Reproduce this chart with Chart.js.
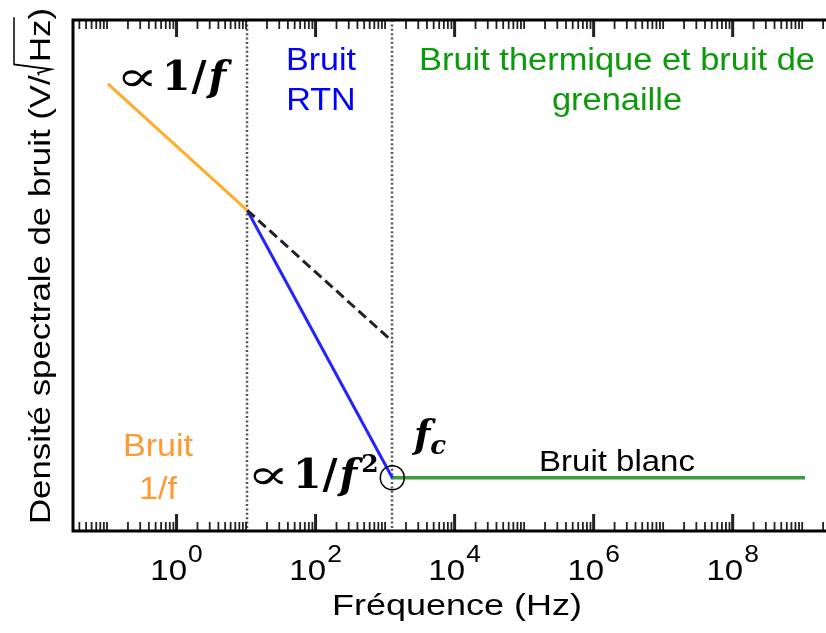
<!DOCTYPE html>
<html lang="fr">
<head>
  <meta charset="UTF-8">
  <title>Densité spectrale de bruit</title>
  <script src="https://cdn.jsdelivr.net/npm/chart.js"></script>
  <style>
    body, html {
      margin: 0;
      padding: 0;
      background-color: #ffffff;
    }
    .chart-container {
      width: 826px;
      height: 633px;
    }
  </style>
</head>
<body>
  <div class="chart-container"><canvas id="myChart" width="826" height="633"></canvas></div>

  <script>
    // axis ranges (log-log)
    const freqMin = 0.0324, freqMax = 2.2e9;
    const densMin = 1e-11, densMax = 1e-3;

    // segments of the noise spectrum
    const bruit1fF = [0.103, 10.4];
    const bruit1fD = [1e-4, 1.05e-6];
    const extrapF = [10.4, 1270];
    const extrapD = [1.05e-6, 9.3e-9];
    const rtnF = [10.4, 1270];
    const rtnD = [1.05e-6, 6.8e-11];
    const blancF = [1270, 1.1e9];
    const blancD = [6.8e-11, 6.8e-11];

    // region boundaries and corner frequency
    const boundaries = [10.4, 1270];
    const fc = 1270;

    // labelled ticks on the x axis
    const majorTicks = [1, 1e2, 1e4, 1e6, 1e8];
    const tickExps = ['0', '2', '4', '6', '8'];

    const SANS = "'Liberation Sans', Arial, sans-serif";
    const SERIF = "'DejaVu Serif', 'Liberation Serif', serif";

    function pts(xs, ys) {
      return xs.map((x, i) => ({ x: x, y: ys[i] }));
    }

    function txt(ctx, s, x, y, font, color, align, sx) {
      ctx.save();
      ctx.translate(x, y);
      ctx.scale(sx || 1, 1);
      ctx.font = font;
      ctx.fillStyle = color;
      ctx.textAlign = align || 'center';
      ctx.textBaseline = 'alphabetic';
      ctx.fillText(s, 0, 0);
      ctx.restore();
    }

    // draws "∝ 1/f" (+ optional exponent) starting at x
    function propTo(ctx, x, y, exp) {
      ctx.save();
      ctx.fillStyle = '#000';
      ctx.textBaseline = 'alphabetic';
      ctx.textAlign = 'left';
      // the proportional sign, fitted to a 30 x 17 box
      ctx.font = '40px ' + SERIF;
      const m = ctx.measureText('\u221D');
      const bw = m.actualBoundingBoxLeft + m.actualBoundingBoxRight;
      const bh = m.actualBoundingBoxAscent + m.actualBoundingBoxDescent;
      ctx.save();
      ctx.translate(x, y - 3);
      ctx.scale(30 / bw, 17 / bh);
      ctx.fillText('\u221D', m.actualBoundingBoxLeft, -m.actualBoundingBoxDescent);
      ctx.restore();
      x += 40;
      ctx.font = 'bold 41px ' + SERIF;
      ctx.fillText('1', x, y);
      x += ctx.measureText('1').width + 1;
      ctx.fillText('/', x, y);
      x += ctx.measureText('/').width + 2;
      ctx.font = 'bold italic 41px ' + SERIF;
      ctx.fillText('f', x, y);
      x += ctx.measureText('f').width + 4;
      if (exp) {
        ctx.font = 'bold 25px ' + SERIF;
        ctx.fillText(exp, x, y - 16);
      }
      ctx.restore();
    }

    const decorations = {
      id: 'decorations',
      beforeDatasetsDraw(chart) {
        const ctx = chart.ctx, a = chart.chartArea, xs = chart.scales.x;
        ctx.save();
        ctx.strokeStyle = '#555';
        ctx.lineWidth = 2.5;
        ctx.setLineDash([2, 2.4]);
        boundaries.forEach(f => {
          const px = Math.round(xs.getPixelForValue(f));
          ctx.beginPath();
          ctx.moveTo(px, a.top);
          ctx.lineTo(px, a.bottom);
          ctx.stroke();
        });
        ctx.restore();
      },
      afterDraw(chart) {
        const ctx = chart.ctx, a = chart.chartArea;
        const xs = chart.scales.x, ys = chart.scales.y;
        ctx.save();

        // minor and major ticks, inward, bottom and top
        ctx.strokeStyle = '#222';
        for (let k = -2; k <= 9; k++) {
          for (let m = 1; m <= 9; m++) {
            const f = m * Math.pow(10, k);
            if (f < freqMin || f > freqMax) continue;
            const major = m === 1 && k % 2 === 0;
            const len = major ? 17 : 9;
            const px = xs.getPixelForValue(f);
            ctx.lineWidth = major ? 3 : 1.8;
            ctx.beginPath();
            ctx.moveTo(px, a.bottom);
            ctx.lineTo(px, a.bottom - len);
            ctx.moveTo(px, a.top);
            ctx.lineTo(px, a.top + len);
            ctx.stroke();
          }
        }

        // frame (right side falls outside the picture)
        ctx.strokeStyle = '#000';
        ctx.lineWidth = 3;
        ctx.beginPath();
        ctx.moveTo(a.right + 2, a.top);
        ctx.lineTo(a.left, a.top);
        ctx.lineTo(a.left, a.bottom);
        ctx.lineTo(a.right + 2, a.bottom);
        ctx.stroke();

        // x tick labels 10^n
        majorTicks.forEach((f, i) => {
          const px = xs.getPixelForValue(f);
          ctx.save();
          ctx.translate(px, 580);
          ctx.scale(1.1, 1);
          ctx.fillStyle = '#000';
          ctx.textAlign = 'left';
          ctx.font = '30px ' + SANS;
          const w10 = ctx.measureText('10').width;
          ctx.font = '24px ' + SANS;
          const we = ctx.measureText(tickExps[i]).width;
          const x0 = -(w10 + 1 + we) / 2;
          ctx.font = '30px ' + SANS;
          ctx.fillText('10', x0, 0);
          ctx.font = '24px ' + SANS;
          ctx.fillText(tickExps[i], x0 + w10 + 1, -18);
          ctx.restore();
        });

        // axis titles
        txt(ctx, 'Fréquence (Hz)', 457, 615, '30px ' + SANS, '#000', 'center', 1.2);

        ctx.save();
        ctx.translate(50, 266);
        ctx.rotate(-Math.PI / 2);
        ctx.scale(1.2, 1);
        ctx.font = '29px ' + SANS;
        ctx.fillStyle = '#000';
        ctx.strokeStyle = '#000';
        ctx.textAlign = 'left';
        const p1 = 'Densité spectrale de bruit (V/';
        const p2 = 'Hz)';
        const w1 = ctx.measureText(p1).width;
        const w2 = ctx.measureText(p2).width;
        const wHz = ctx.measureText('Hz').width;
        const rw = 11;
        let x0 = -(w1 + rw + w2) / 2;
        ctx.fillText(p1, x0, 0);
        const rx = x0 + w1;
        ctx.lineWidth = 1.5;
        ctx.beginPath();
        ctx.moveTo(rx, -11);
        ctx.lineTo(rx + 2, -12);
        ctx.lineTo(rx + 5, 1);
        ctx.lineTo(rx + 9, -36);
        ctx.lineTo(rx + rw + wHz + 2, -36);
        ctx.stroke();
        ctx.fillText(p2, rx + rw, 0);
        ctx.restore();

        // region labels
        const green = '#0a9a0a';
        txt(ctx, 'Bruit thermique et bruit de', 617, 70, '31px ' + SANS, green, 'center', 1.11);
        txt(ctx, 'grenaille', 617, 110, '31px ' + SANS, green, 'center', 1.11);
        txt(ctx, 'Bruit', 321, 70, '31px ' + SANS, '#0000ff', 'center', 1.1);
        txt(ctx, 'RTN', 321, 110, '31px ' + SANS, '#0000ff', 'center', 1.1);
        txt(ctx, 'Bruit', 158, 456, '31px ' + SANS, '#ff9a33', 'center', 1.1);
        txt(ctx, '1/f', 158, 499, '31px ' + SANS, '#ff9a33', 'center', 1.1);
        txt(ctx, 'Bruit blanc', 617, 471, '30px ' + SANS, '#000', 'center', 1.1);

        // slope annotations
        propTo(ctx, 122, 90, null);
        propTo(ctx, 253, 488, '2');

        // corner frequency marker
        const cx = xs.getPixelForValue(fc), cy = ys.getPixelForValue(blancD[0]);
        ctx.strokeStyle = '#000';
        ctx.lineWidth = 1.5;
        ctx.beginPath();
        ctx.arc(cx, cy, 12, 0, Math.PI * 2);
        ctx.stroke();
        ctx.fillStyle = '#000';
        ctx.textAlign = 'left';
        ctx.font = 'bold italic 38px ' + SERIF;
        ctx.fillText('f', 414, 447);
        const wf = ctx.measureText('f').width;
        ctx.font = 'bold italic 26px ' + SERIF;
        ctx.fillText('c', 414 + wf, 454);

        ctx.restore();
      }
    };

    const ctx = document.getElementById('myChart').getContext('2d');
    const myChart = new Chart(ctx, {
      type: 'scatter',
      data: {
        datasets: [
          {
            label: 'Bruit 1/f',
            data: pts(bruit1fF, bruit1fD),
            borderColor: '#ffad2a',
            borderWidth: 3
          },
          {
            label: 'Extrapolation 1/f',
            data: pts(extrapF, extrapD),
            borderColor: '#222222',
            borderWidth: 3,
            borderDash: [10, 5]
          },
          {
            label: 'Bruit RTN',
            data: pts(rtnF, rtnD),
            borderColor: '#2323ff',
            borderWidth: 3
          },
          {
            label: 'Bruit blanc',
            data: pts(blancF, blancD),
            borderColor: '#3c9c3c',
            borderWidth: 3.5
          }
        ]
      },
      options: {
        responsive: false,
        animation: false,
        showLine: true,
        elements: {
          point: { radius: 0, hoverRadius: 0 },
          line: { tension: 0 }
        },
        layout: {
          padding: { left: 73, top: 20, right: 0, bottom: 102 }
        },
        scales: {
          x: { type: 'logarithmic', min: freqMin, max: freqMax, display: false },
          y: { type: 'logarithmic', min: densMin, max: densMax, display: false }
        },
        plugins: {
          legend: { display: false },
          tooltip: { enabled: false }
        }
      },
      plugins: [decorations]
    });
  </script>
</body>
</html>
